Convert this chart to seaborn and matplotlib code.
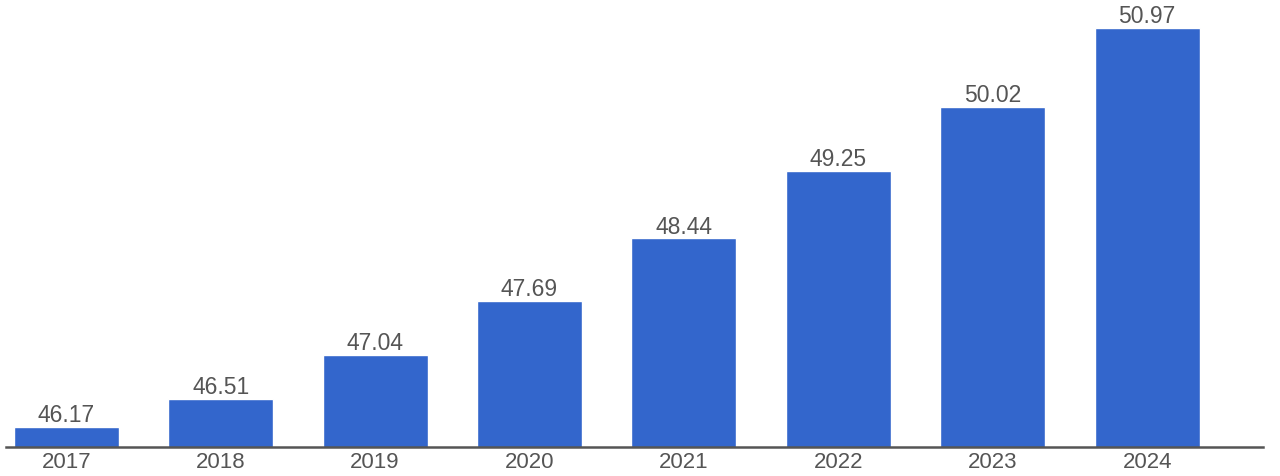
import seaborn as sns
import pandas as pd
import matplotlib.pyplot as plt

years = ["2017", "2018", "2019", "2020", "2021", "2022", "2023", "2024"]
values = [46.17, 46.51, 47.04, 47.69, 48.44, 49.25, 50.02, 50.97]


def main():
    df = pd.DataFrame({"year": years, "value": values})

    sns.set_style("white")
    plt.rcParams["font.family"] = ["Liberation Sans", "DejaVu Sans"]

    fig = plt.figure(figsize=(12.8, 4.77), dpi=100)
    ax = fig.add_axes([6 / 1280, 1 - 448 / 477, 1257 / 1280, 448 / 477])

    sns.barplot(data=df, x="year", y="value", color="#3366cc", saturation=1,
                width=0.68, ax=ax)

    # value labels above each bar
    for i, v in enumerate(values):
        ax.annotate(f"{v:.2f}", (i, v), xytext=(0, 0.5), textcoords="offset points",
                    ha="center", va="bottom", fontsize=16.5, color="#555555")

    ax.set_ylim(45.93, 51.32)
    ax.set_xlim(-0.39, 7.75)
    ax.set_xlabel("")
    ax.set_ylabel("")
    ax.set_yticks([])
    ax.tick_params(axis="x", length=0, labelsize=16, labelcolor="#555555", pad=3)

    for side in ["top", "right", "left"]:
        ax.spines[side].set_visible(False)
    ax.spines["bottom"].set_color("#555555")
    ax.spines["bottom"].set_linewidth(1.8)

    fig.savefig("out.png", dpi=100)
    plt.close(fig)


if __name__ == "__main__":
    main()
